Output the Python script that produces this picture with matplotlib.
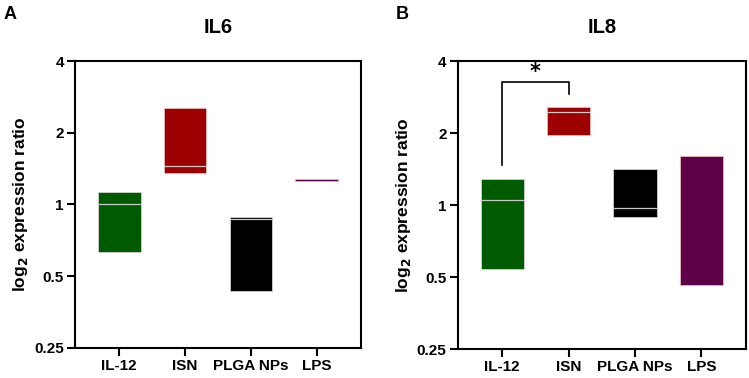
import matplotlib.pyplot as plt
import matplotlib.ticker as mticker

plt.rcParams['font.family'] = ['Liberation Sans', 'DejaVu Sans']
plt.rcParams['font.weight'] = 'bold'

groups = ['IL-12', 'ISN', 'PLGA NPs', 'LPS']
colors = ['#005a00', '#9c0000', '#000000', '#5e004a']

# floating bars: min, max, median
il6_min = [0.633, 1.355, 0.433, 1.252]
il6_max = [1.124, 2.53, 0.885, 1.280]
il6_med = [1.0, 1.45, 0.866, None]

il8_min = [0.539, 1.96, 0.894, 0.462]
il8_max = [1.29, 2.56, 1.41, 1.60]
il8_med = [1.046, 2.45, 0.969, None]

# significance bracket IL-12 vs ISN on IL8
brk_left_low = 1.47
brk_top = 3.28
brk_right_low = 2.9

fig = plt.figure(figsize=(7.49, 3.78), dpi=100)
axA = fig.add_axes([0.1001, 0.0794, 0.382, 0.7592])
axB = fig.add_axes([0.611, 0.0767, 0.385, 0.7619])


def draw(ax, lo, hi, med, title):
    for i in range(len(groups)):
        ax.bar(i, hi[i] - lo[i], bottom=lo[i], width=0.65, color=colors[i],
               edgecolor='#e8b8b8' if i in (1, 3) else '#d0d0d0', linewidth=0.6, zorder=2)
        if med[i] is not None:
            ax.plot([i - 0.325, i + 0.325], [med[i], med[i]], color='#c8c8c8',
                    lw=0.9, zorder=3)
    ax.set_yscale('log', base=2)
    ax.set_ylim(0.25, 4)
    ax.set_xlim(-0.67, 3.67)
    ax.yaxis.set_major_locator(mticker.FixedLocator([0.25, 0.5, 1, 2, 4]))
    ax.yaxis.set_major_formatter(mticker.FixedFormatter(['0.25', '0.5', '1', '2', '4']))
    ax.yaxis.set_minor_locator(mticker.NullLocator())
    ax.set_xticks(range(len(groups)))
    ax.set_xticklabels(groups, fontsize=11, fontweight='bold')
    for lab in ax.get_yticklabels():
        lab.set_fontsize(11)
        lab.set_fontweight('bold')
    ax.tick_params(width=1.5, length=6, pad=2)
    for s in ax.spines.values():
        s.set_linewidth(1.5)
    ax.set_ylabel('log$_\\mathbf{2}$ expression ratio', fontsize=12.5,
                  fontweight='bold', labelpad=3)
    ax.set_title(title, fontsize=14.5, fontweight='bold', pad=20)


draw(axA, il6_min, il6_max, il6_med, 'IL6')
draw(axB, il8_min, il8_max, il8_med, 'IL8')

axB.plot([0, 0, 1, 1], [brk_left_low, brk_top, brk_top, brk_right_low],
         color='black', lw=1.2, zorder=4)
axB.text(0.5, 3.4, '*', ha='center', va='baseline', fontsize=15,
         fontweight='bold', family='DejaVu Sans')

fig.text(0.005, 0.985, 'A', fontsize=13, fontweight='bold', va='top')
fig.text(0.528, 0.985, 'B', fontsize=13, fontweight='bold', va='top')

fig.savefig('out.png', dpi=100)
